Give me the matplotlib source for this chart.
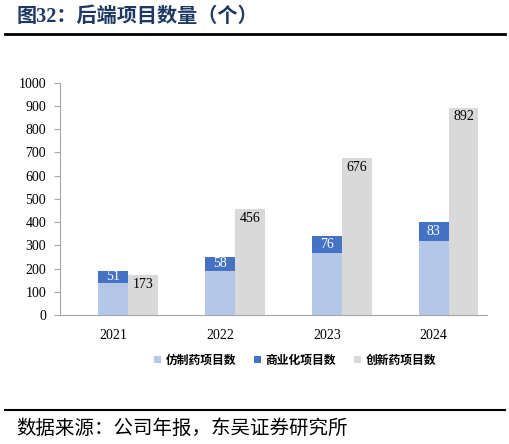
import numpy as np
import matplotlib
matplotlib.use("Agg")
import matplotlib.pyplot as plt

plt.rcParams['font.family'] = ['Liberation Serif', 'Noto Sans CJK SC', 'DejaVu Sans']

years = ['2021', '2022', '2023', '2024']
generic = [139, 191, 265, 317]      # 仿制药项目数
commercial = [51, 58, 76, 83]       # 商业化项目数
innovative = [173, 456, 676, 892]   # 创新药项目数

c_gen = '#B4C7E7'
c_com = '#4472C4'
c_inn = '#D9D9D9'

fig = plt.figure(figsize=(5.10, 4.44), dpi=100)
W, H = 510, 444

# title and rules
fig.text(17 / W, 1 - 17 / H, '图32：后端项目数量（个）', fontsize=14.5, fontweight='bold',
         color='#1F3864', family=['Liberation Serif', 'Noto Sans CJK SC'], va='center', ha='left')
fig.add_artist(plt.Line2D([5 / W, 505 / W], [1 - 34 / H, 1 - 34 / H], color='black', lw=2))
fig.add_artist(plt.Line2D([5 / W, 505 / W], [1 - 410 / H, 1 - 410 / H], color='black', lw=1.5))
fig.text(16 / W, 1 - 428 / H, '数据来源：公司年报，东吴证券研究所', fontsize=14,
         family=['Noto Sans CJK SC'], fontweight='light', va='center', ha='left')

ax = fig.add_axes([60 / W, 1 - 315 / H, 427 / W, (315 - 82.6) / H])
x = np.arange(len(years))
w = 0.28

ax.bar(x, generic, w, color=c_gen, label='仿制药项目数')
ax.bar(x, commercial, w, bottom=generic, color=c_com, label='商业化项目数')
ax.bar(x + w, innovative, w, color=c_inn, label='创新药项目数')

for i in range(len(years)):
    ax.text(x[i], generic[i] + commercial[i] / 2, str(commercial[i]), color='white',
            ha='center', va='center', fontsize=10)
    ax.text(x[i] + w, innovative[i] - 40, str(innovative[i]), color='black',
            ha='center', va='center', fontsize=10)

ax.set_xlim(-0.5, 3.5)
ax.set_ylim(0, 1000)
ax.set_yticks(np.arange(0, 1001, 100))
ax.set_xticks(x)
ax.set_xticklabels(years)
ax.tick_params(axis='y', direction='out', length=4, color='#A6A6A6', labelsize=10, pad=6)
ax.tick_params(axis='x', length=0, labelsize=10, pad=10)
for s in ['top', 'right']:
    ax.spines[s].set_visible(False)
for s in ['left', 'bottom']:
    ax.spines[s].set_color('#A6A6A6')

ax.legend(loc='upper center', bbox_to_anchor=(0.55, -0.12), ncol=3, frameon=False,
          prop={'family': ['Noto Sans CJK SC'], 'size': 8.5, 'weight': 'bold'},
          handlelength=0.6, handleheight=0.6, handletextpad=0.4, columnspacing=1.5)

fig.savefig('out.png', dpi=100)
